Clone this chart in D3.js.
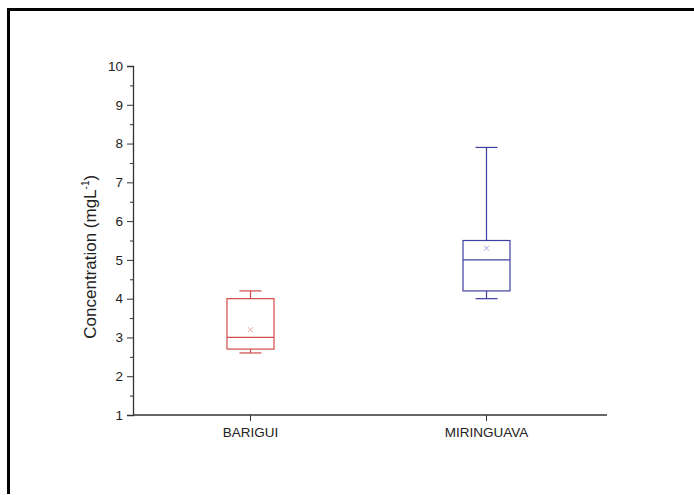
<!DOCTYPE html>
<html>
<head>
<meta charset="utf-8">
<script src="https://cdn.jsdelivr.net/npm/d3@7"></script>
<style>
  body { margin: 0; background: #fff; }
  text { font-family: Arial, "Liberation Sans", sans-serif; fill: #222; }
</style>
</head>
<body>
<script>
// box plot data
const sites = ["BARIGUI", "MIRINGUAVA"];
const whiskerLow = [2.6, 4.0];
const q1 = [2.7, 4.2];
const median = [3.0, 5.0];
const q3 = [4.0, 5.5];
const whiskerHigh = [4.2, 7.9];
const means = [3.2, 5.3];
const colors = ["#d24a4a", "#3f3fa3"];
const meanColors = ["#e8a0a0", "#a0a0d8"];
const yTicks = [1, 2, 3, 4, 5, 6, 7, 8, 9, 10];

const svgWidth = 694;
const svgHeight = 495;

const margin = { top: 66, right: 87, bottom: 80, left: 133 };
const width = svgWidth - margin.left - margin.right;
const height = svgHeight - margin.top - margin.bottom;

const svg = d3.select("body").append("svg")
    .attr("width", svgWidth)
    .attr("height", svgHeight);

// frame: only top and left edges show
svg.append("path")
    .attr("d", "M8.5,494 V9.5 H694")
    .attr("fill", "none")
    .attr("stroke", "#000")
    .attr("stroke-width", 3);

const chartGroup = svg.append("g")
    .attr("transform", `translate(${margin.left}, ${margin.top})`);

const x = d3.scalePoint()
    .domain(sites)
    .range([0, width])
    .padding(0.5);
// pull categories toward the chart's centre a bit like the original
const xPos = d => x(d) + (d === sites[0] ? -1 : -2);

const y = d3.scaleLinear()
    .domain([1, 10])
    .range([height, 0]);

// minor ticks
chartGroup.append("g")
    .call(d3.axisLeft(y).tickValues(d3.range(1.5, 10, 1)).tickSize(3).tickFormat(""))
    .call(g => g.select(".domain").remove())
    .selectAll("line").attr("stroke", "#333");

// y axis
const yAxis = chartGroup.append("g")
    .call(d3.axisLeft(y).tickValues(yTicks).tickSize(6).tickPadding(4).tickFormat(d3.format("d")));
yAxis.select(".domain").attr("stroke", "#333").attr("stroke-width", 1.3);
yAxis.selectAll("line").attr("stroke", "#333");
yAxis.selectAll("text").attr("font-size", "13.5px").attr("fill", "#222")
    .style("font-family", "Arial, 'Liberation Sans', sans-serif");

// x axis
const xAxis = chartGroup.append("g")
    .attr("transform", `translate(0, ${height})`)
    .call(d3.axisBottom(x).tickSize(6).tickPadding(6));
xAxis.select(".domain").attr("d", `M0,0H${width}`).attr("stroke", "#333").attr("stroke-width", 1.3);
xAxis.selectAll(".tick").attr("transform", d => `translate(${xPos(d)},0)`);
xAxis.selectAll("line").attr("stroke", "#333");
xAxis.selectAll("text").attr("font-size", "13.5px").attr("fill", "#222")
    .style("font-family", "Arial, 'Liberation Sans', sans-serif");

// y label
const yLabel = chartGroup.append("text")
    .attr("transform", "rotate(-90)")
    .attr("x", -(y(5.08)))
    .attr("y", -37)
    .attr("text-anchor", "middle")
    .attr("font-size", "17px");
yLabel.append("tspan").text("Concentration (mgL");
yLabel.append("tspan").attr("dy", -7).attr("font-size", "10px").text("-1");
yLabel.append("tspan").attr("dy", 7).text(")");

// boxes
const boxW = 47;
const capW = 22;
sites.forEach((s, i) => {
    const cx = xPos(s);
    const g = chartGroup.append("g")
        .attr("stroke", colors[i])
        .attr("stroke-width", 1.2)
        .attr("fill", "none");
    // whiskers
    g.append("line").attr("x1", cx).attr("x2", cx).attr("y1", y(q3[i])).attr("y2", y(whiskerHigh[i]));
    g.append("line").attr("x1", cx).attr("x2", cx).attr("y1", y(q1[i])).attr("y2", y(whiskerLow[i]));
    g.append("line").attr("x1", cx - capW / 2).attr("x2", cx + capW / 2)
        .attr("y1", y(whiskerHigh[i])).attr("y2", y(whiskerHigh[i]));
    g.append("line").attr("x1", cx - capW / 2).attr("x2", cx + capW / 2)
        .attr("y1", y(whiskerLow[i])).attr("y2", y(whiskerLow[i]));
    // box
    g.append("rect")
        .attr("x", cx - boxW / 2)
        .attr("y", y(q3[i]))
        .attr("width", boxW)
        .attr("height", y(q1[i]) - y(q3[i]));
    // median
    g.append("line").attr("x1", cx - boxW / 2).attr("x2", cx + boxW / 2)
        .attr("y1", y(median[i])).attr("y2", y(median[i]));
    // mean marker
    const my = y(means[i]);
    g.append("path")
        .attr("d", `M${cx - 2.5},${my - 2.5}L${cx + 2.5},${my + 2.5}M${cx - 2.5},${my + 2.5}L${cx + 2.5},${my - 2.5}`)
        .attr("stroke", meanColors[i])
        .attr("stroke-width", 1);
});
</script>
</body>
</html>
